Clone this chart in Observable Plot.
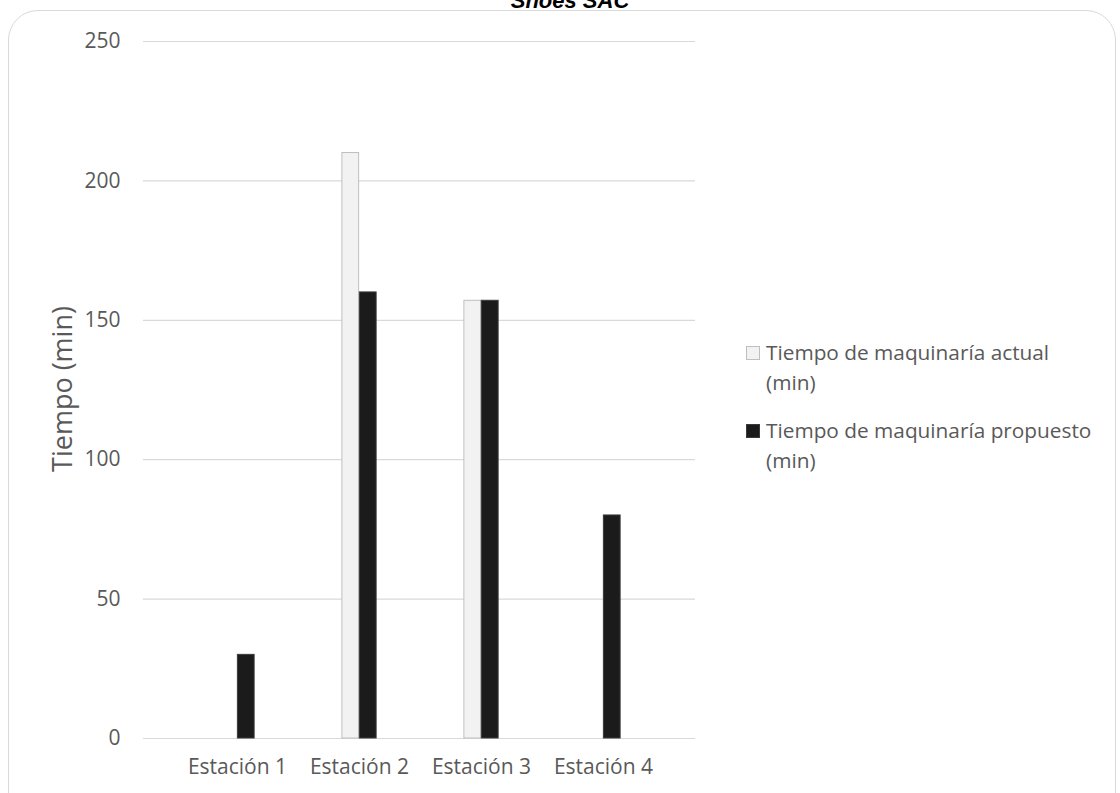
<!DOCTYPE html>
<html>
<head>
<meta charset="utf-8">
<script src="https://cdn.jsdelivr.net/npm/d3@7"></script>
<script src="https://cdn.jsdelivr.net/npm/@observablehq/plot@0.6"></script>
<style>
  html, body { margin: 0; padding: 0; background: #fff; overflow: hidden; }
  #wrap { position: relative; width: 1120px; height: 793px; overflow: hidden; font-family: "Open Sans", sans-serif; }
  #frame { position: absolute; left: 8px; top: 10px; width: 1108px; height: 820px; border: 1.5px solid #d9d9d9; border-radius: 30px; box-sizing: border-box; }
  #title { position: absolute; left: 0; width: 1140px; top: -12px; text-align: center; font-family: "Liberation Sans", Arial, sans-serif; font-weight: bold; font-style: italic; font-size: 22px; color: #000; }
  #chart { position: absolute; left: 0; top: 0; }
  #ylabel { position: absolute; left: 61px; top: 389px; transform: translate(-50%, -50%) rotate(-90deg); white-space: nowrap; font-size: 27px; color: #595959; }
  #legend { position: absolute; left: 746px; top: 337px; font-size: 20.8px; color: #595959; line-height: 30px; }
  .item { display: flex; align-items: flex-start; margin-bottom: 18px; }
  .sw { width: 14px; height: 14px; margin-top: 9px; margin-right: 6px; box-sizing: border-box; flex: none; }
</style>
</head>
<body>
<div id="wrap">
  <div id="frame"></div>
  <div id="chart"></div>
  <div id="ylabel"></div>
  <div id="title"></div>
  <div id="legend"></div>
</div>
<script>
const title = "Shoes SAC";
const yLabel = "Tiempo (min)";
const stations = ["Estación 1", "Estación 2", "Estación 3", "Estación 4"];
const seriesNames = ["Tiempo de maquinaría actual (min)", "Tiempo de maquinaría propuesto (min)"];
const actual = [0, 210, 157, 0];
const proposed = [30, 160, 157, 80];
const yTicks = [0, 50, 100, 150, 200, 250];
const fills = ["#f2f2f2", "#1b1b1b"];
const strokes = ["#bfbfbf", "#3a3a3a"];

const W = 1120, H = 793;
const mL = 143, mR = W - 695, mT = 41, mB = H - 738;
const inL = 31, inR = 30;
const band = (W - mL - mR - inL - inR) / stations.length;
const barW = 17.5;

const rows = [];
stations.forEach((s, i) => {
  rows.push({station: s, series: seriesNames[0], value: actual[i]});
  rows.push({station: s, series: seriesNames[1], value: proposed[i]});
});
const actualRows = rows.filter(d => d.series === seriesNames[0] && d.value > 0);
const propRows = rows.filter(d => d.series === seriesNames[1] && d.value > 0);

const chart = Plot.plot({
  width: W, height: H,
  marginLeft: mL, marginRight: mR, marginTop: mT, marginBottom: mB,
  style: {fontFamily: "'Open Sans', sans-serif", fontSize: "21px", color: "#595959", background: "transparent", overflow: "visible"},
  x: {domain: stations, padding: 0, insetLeft: inL, insetRight: inR, label: null, tickSize: 0, tickPadding: 21},
  y: {domain: [0, 250], ticks: yTicks, tickSize: 0, tickPadding: 23, label: null},
  marks: [
    Plot.ruleY(yTicks, {stroke: "#d9d9d9", strokeWidth: 1.2}),
    Plot.barY(actualRows, {x: "station", y: "value", fill: fills[0], stroke: strokes[0], strokeWidth: 1,
      insetLeft: band / 2 - barW, insetRight: band / 2}),
    Plot.barY(propRows, {x: "station", y: "value", fill: fills[1], stroke: strokes[1], strokeWidth: 1,
      insetLeft: band / 2, insetRight: band / 2 - barW})
  ]
});
document.getElementById("chart").appendChild(chart);
document.getElementById("title").textContent = title;
document.getElementById("ylabel").textContent = yLabel;

const leg = document.getElementById("legend");
seriesNames.forEach((name, i) => {
  const it = document.createElement("div");
  it.className = "item";
  const sw = document.createElement("div");
  sw.className = "sw";
  sw.style.background = fills[i];
  sw.style.border = "1px solid " + strokes[i];
  const tx = document.createElement("div");
  tx.textContent = name.replace(" (min)", "");
  tx.appendChild(document.createElement("br"));
  tx.appendChild(document.createTextNode("(min)"));
  it.appendChild(sw); it.appendChild(tx);
  leg.appendChild(it);
});
</script>
</body>
</html>
